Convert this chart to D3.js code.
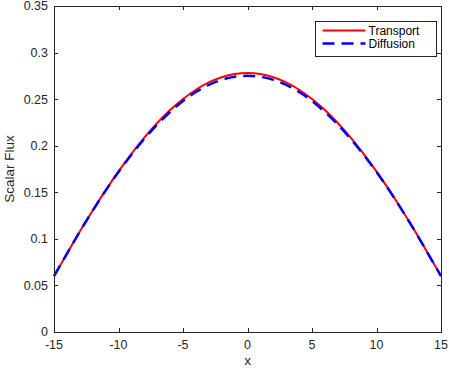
<!DOCTYPE html>
<html>
<head>
<meta charset="utf-8">
<script src="https://cdn.jsdelivr.net/npm/d3@7"></script>
<style>
  body { margin: 0; background: #fff; }
  svg { display: block; font-family: "Liberation Sans", Arial, Helvetica, sans-serif; }
</style>
</head>
<body>
<svg id="chart"></svg>
<script>
// positions along the slab
const xValues = [-15, -14, -13, -12, -11, -10, -9, -8, -7, -6, -5, -4, -3, -2, -1, 0,
                 1, 2, 3, 4, 5, 6, 7, 8, 9, 10, 11, 12, 13, 14, 15];
// scalar flux
const transport = [0.060, 0.084, 0.108, 0.1305, 0.152, 0.1724, 0.1913, 0.2087, 0.2244, 0.2383, 0.2502,
                   0.2601, 0.2679, 0.2735, 0.2769, 0.278, 0.2769, 0.2735, 0.2679, 0.2601, 0.2502,
                   0.2383, 0.2244, 0.2087, 0.1913, 0.1724, 0.152, 0.1305, 0.108, 0.084, 0.060];
const diffusion = [0.060, 0.084, 0.1078, 0.1303, 0.1518, 0.1718, 0.1903, 0.2073, 0.2226, 0.2362, 0.248,
                   0.2577, 0.2653, 0.2707, 0.274, 0.275, 0.274, 0.2707, 0.2653, 0.2577, 0.248,
                   0.2362, 0.2226, 0.2073, 0.1903, 0.1718, 0.1518, 0.1303, 0.1078, 0.084, 0.060];
const xTicks = [-15, -10, -5, 0, 5, 10, 15];
const yTicks = [0, 0.05, 0.1, 0.15, 0.2, 0.25, 0.3, 0.35];
const seriesNames = ["Transport", "Diffusion"];

const width = 449, height = 371;
const margin = {left: 54, right: 8, top: 6, bottom: 39};
const axisColor = "#262626";

const svg = d3.select("#chart")
    .attr("width", width)
    .attr("height", height);

const x = d3.scaleLinear().domain([-15, 15]).range([margin.left, width - margin.right]);
const y = d3.scaleLinear().domain([0, 0.35]).range([height - margin.bottom, margin.top]);

const x0 = x.range()[0], x1 = x.range()[1];
const y0 = y.range()[0], y1 = y.range()[1];
const tickLen = 4;

// Curves
const line = d3.line()
    .x((d, i) => x(xValues[i]))
    .y(d => y(d))
    .curve(d3.curveMonotoneX);

svg.append("path")
    .datum(transport)
    .attr("d", line)
    .attr("fill", "none")
    .attr("stroke", "#ff0000")
    .attr("stroke-width", 2);

svg.append("path")
    .datum(diffusion)
    .attr("d", line)
    .attr("fill", "none")
    .attr("stroke", "#0000ff")
    .attr("stroke-width", 2.5)
    .attr("stroke-dasharray", "12,7");

// Box
svg.append("rect")
    .attr("x", x0 + 0.5)
    .attr("y", y1 + 0.5)
    .attr("width", x1 - x0)
    .attr("height", y0 - y1)
    .attr("fill", "none")
    .attr("stroke", axisColor)
    .attr("stroke-width", 1);

// Ticks (inward, all four sides)
const g = svg.append("g").attr("stroke", axisColor).attr("stroke-width", 1);
xTicks.forEach(t => {
    const px = Math.round(x(t)) + 0.5;
    g.append("line").attr("x1", px).attr("x2", px).attr("y1", y0).attr("y2", y0 - tickLen);
    g.append("line").attr("x1", px).attr("x2", px).attr("y1", y1).attr("y2", y1 + tickLen);
});
yTicks.forEach(t => {
    const py = Math.round(y(t)) + 0.5;
    g.append("line").attr("x1", x0).attr("x2", x0 + tickLen).attr("y1", py).attr("y2", py);
    g.append("line").attr("x1", x1).attr("x2", x1 - tickLen).attr("y1", py).attr("y2", py);
});

// Tick labels
svg.selectAll(".xlab")
    .data(xTicks)
    .enter()
    .append("text")
    .attr("class", "xlab")
    .attr("x", d => x(d))
    .attr("y", y0 + 17)
    .attr("text-anchor", "middle")
    .style("font-size", "12.5px")
    .style("fill", axisColor)
    .text(d => d);

svg.selectAll(".ylab")
    .data(yTicks)
    .enter()
    .append("text")
    .attr("class", "ylab")
    .attr("x", x0 - 6)
    .attr("y", d => y(d))
    .attr("dy", "0.35em")
    .attr("text-anchor", "end")
    .style("font-size", "12.5px")
    .style("fill", axisColor)
    .text(d => d);

// Axis titles
svg.append("text")
    .attr("x", (x0 + x1) / 2)
    .attr("y", y0 + 33)
    .attr("text-anchor", "middle")
    .style("font-size", "13.5px")
    .style("fill", axisColor)
    .text("x");

svg.append("text")
    .attr("transform", `translate(14,${(y0 + y1) / 2}) rotate(-90)`)
    .attr("text-anchor", "middle")
    .style("font-size", "13.5px")
    .style("fill", axisColor)
    .text("Scalar Flux");

// Legend
const legend = svg.append("g").attr("transform", "translate(315.5,21.5)");
legend.append("rect")
    .attr("width", 121)
    .attr("height", 35)
    .attr("fill", "#fff")
    .attr("stroke", axisColor)
    .attr("stroke-width", 1);

const legendStyles = [
    {color: "#ff0000", width: 2, dash: null},
    {color: "#0000ff", width: 2.5, dash: "12,7"}
];
seriesNames.forEach((name, i) => {
    const ly = 9 + i * 13;
    legend.append("line")
        .attr("x1", 7).attr("x2", 50)
        .attr("y1", ly).attr("y2", ly)
        .attr("stroke", legendStyles[i].color)
        .attr("stroke-width", legendStyles[i].width)
        .attr("stroke-dasharray", legendStyles[i].dash);
    legend.append("text")
        .attr("x", 53)
        .attr("y", ly)
        .attr("dy", "0.35em")
        .style("font-size", "12px")
        .style("fill", "#000")
        .text(name);
});
</script>
</body>
</html>
